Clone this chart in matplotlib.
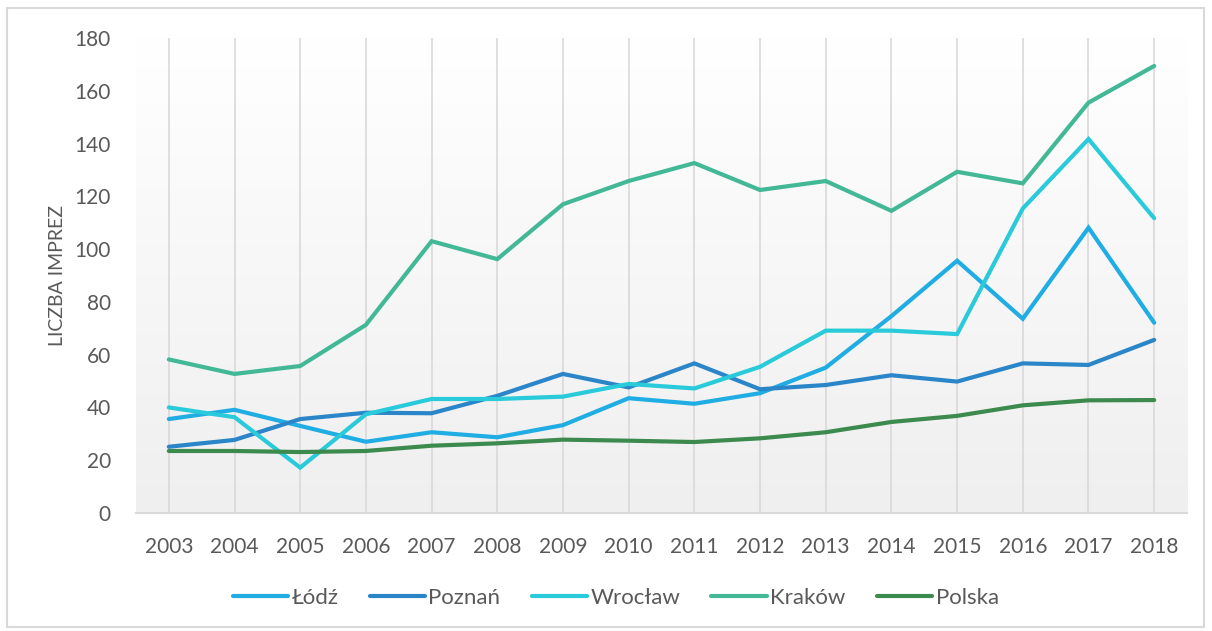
import numpy as np
import matplotlib
matplotlib.use("Agg")
from matplotlib import pyplot as plt
from matplotlib.patches import Rectangle

# data
years = [str(y) for y in range(2003, 2019)]
lodz = [35.6, 39.1, 33.0, 27.0, 30.6, 28.7, 33.3, 43.5, 41.4, 45.4, 55.1, 74.6, 95.6, 73.6, 108.1, 72.1]
poznan = [25.1, 27.7, 35.6, 38.0, 37.8, 44.4, 52.7, 47.6, 56.7, 46.9, 48.5, 52.2, 49.8, 56.7, 56.1, 65.6]
wroclaw = [40.0, 36.3, 17.2, 37.4, 43.2, 43.2, 44.1, 48.9, 47.2, 55.4, 69.1, 69.1, 67.8, 115.4, 141.7, 111.7]
krakow = [58.2, 52.7, 55.7, 71.3, 103.0, 96.2, 117.0, 125.8, 132.6, 122.4, 125.8, 114.5, 129.3, 124.9, 155.5, 169.4]
polska = [23.5, 23.5, 23.1, 23.5, 25.5, 26.4, 27.8, 27.4, 26.9, 28.3, 30.6, 34.5, 36.8, 40.8, 42.7, 42.8]

series = [
    ("Łódź", lodz, "#20ade3"),
    ("Poznań", poznan, "#2a86c9"),
    ("Wrocław", wroclaw, "#29cad9"),
    ("Kraków", krakow, "#43b897"),
    ("Polska", polska, "#3d8a4e"),
]

plt.rcParams['font.family'] = ['Lato', 'DejaVu Sans']
text_col = "#595959"

fig = plt.figure(figsize=(12.12, 6.31), dpi=100)
ax = fig.add_axes([0.1122, 0.187, 0.9794 - 0.1122, 0.9398 - 0.187])

# outer frame
fig.patches.append(Rectangle((7 / 1212, 1 - 627 / 631), 1197 / 1212, 619 / 631,
                             transform=fig.transFigure, fill=False,
                             edgecolor="#d9d9d9", lw=1.5))

# gradient background of the plot area (white at top, light grey at bottom)
grad = np.linspace(0, 1, 256).reshape(-1, 1)
cmap = matplotlib.colors.LinearSegmentedColormap.from_list("bg", ["#ffffff", "#efefef"])
ax.imshow(grad, extent=[0, 1, 0, 1], transform=ax.transAxes, cmap=cmap,
          aspect="auto", zorder=0)

x = np.arange(len(years))
for xi in x:
    ax.axvline(xi, color="#d9d9d9", lw=1.2, zorder=1)

for name, vals, col in series:
    ax.plot(x, vals, color=col, lw=3, label=name, zorder=3,
            solid_capstyle="round", solid_joinstyle="miter")

ax.set_xlim(-0.5, len(years) - 0.5)
ax.set_ylim(0, 180)
ax.set_yticks(range(0, 181, 20))
ax.set_xticks(x)
ax.set_xticklabels(years)
for s in ["top", "right", "left"]:
    ax.spines[s].set_visible(False)
ax.spines["bottom"].set_color("#d9d9d9")
ax.spines["bottom"].set_linewidth(1.5)
ax.tick_params(axis="both", length=0, labelsize=15, labelcolor=text_col)
ax.tick_params(axis="y", pad=18)
ax.tick_params(axis="x", pad=17)
ax.set_ylabel("LICZBA IMPREZ", fontsize=14, color=text_col, labelpad=6)

leg = fig.legend(loc="center", bbox_to_anchor=(0.508, 1 - 598 / 631), ncol=5,
                 frameon=False, fontsize=16, handlelength=2.5, handletextpad=0.15,
                 columnspacing=1.4, labelcolor=text_col)

fig.savefig("out.png", dpi=100)
